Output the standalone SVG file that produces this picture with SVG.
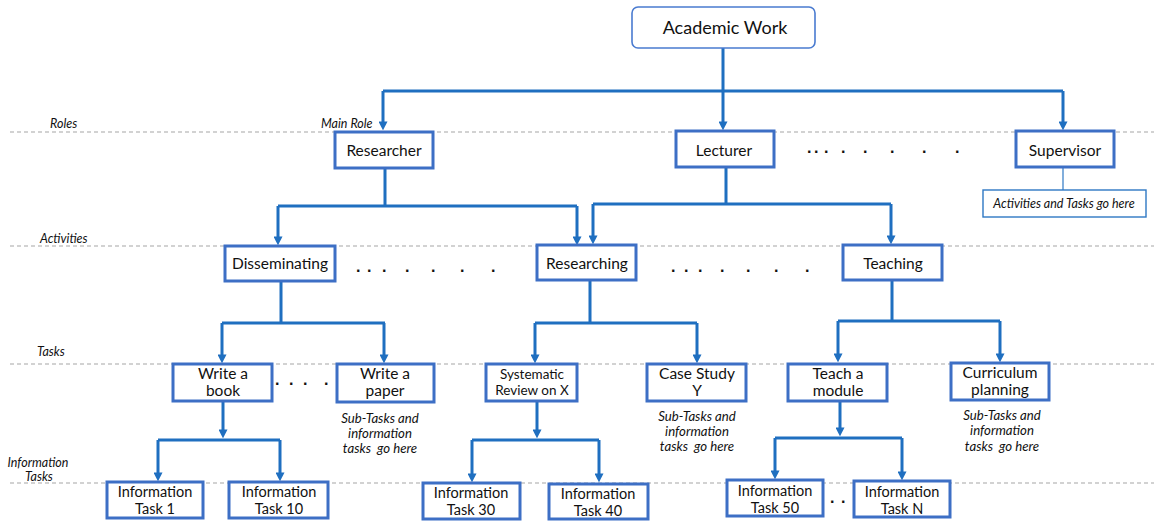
<svg xmlns="http://www.w3.org/2000/svg" width="1154" height="521" viewBox="0 0 1154 521">
  <style>
    .bg { fill: #ffffff; }
    .guide { stroke: #a6a6a6; stroke-width: 1.2; stroke-dasharray: 4 3; fill: none; }
    .box { fill: #ffffff; stroke: #3d6fc5; stroke-width: 3; }
    .root { fill: #ffffff; stroke: #4a7bd0; stroke-width: 1.6; }
    .note-box { fill: #ffffff; stroke: #2e78c4; stroke-width: 1.4; }
    .link { fill: none; stroke: #1f6fc0; stroke-width: 3; }
    .drop { fill: none; stroke: #1f6fc0; stroke-width: 3; marker-end: url(#head); }
    .thin { fill: none; stroke: #2e78c4; stroke-width: 1.2; }
    .t { font-family: Lato, "Liberation Sans", sans-serif; fill: #111111; text-anchor: middle; }
    .lg { font-size: 18px; }
    .md { font-size: 15.5px; }
    .sm { font-size: 13.5px; }
    .inf { font-size: 14.5px; }
    .it { font-family: Lato, "Liberation Sans", sans-serif; font-style: italic; fill: #111111; font-size: 12.5px; }
    .itc { text-anchor: middle; font-size: 13.2px; }
    .dots { font-family: "Liberation Sans", sans-serif; font-size: 16px; fill: #111111; font-weight: bold; }
  </style>
  <defs>
    <marker id="head" viewBox="0 0 10 10" refX="4" refY="5" markerWidth="9" markerHeight="9" markerUnits="userSpaceOnUse" orient="auto">
      <path d="M0,0 L10,5 L0,10 z" fill="#1f6fc0"/>
    </marker>
  </defs>

  <rect class="bg" x="0" y="0" width="1154" height="521"/>

  <!-- level guides -->
  <g id="guides">
    <line class="guide" x1="10" y1="132" x2="1154" y2="132"/>
    <line class="guide" x1="10" y1="246" x2="1154" y2="246"/>
    <line class="guide" x1="10" y1="364" x2="1154" y2="364"/>
    <line class="guide" x1="10" y1="483" x2="1154" y2="483"/>
  </g>

  <!-- level labels -->
  <g id="labels">
    <text class="it" x="50" y="128">Roles</text>
    <text class="it" x="321" y="128">Main Role</text>
    <text class="it" x="40" y="243">Activities</text>
    <text class="it" x="37" y="356">Tasks</text>
    <text class="it" x="38" y="467" text-anchor="middle">Information</text>
    <text class="it" x="39" y="481" text-anchor="middle">Tasks</text>
  </g>

  <!-- connectors -->
  <g id="connectors">
    <!-- Academic Work to roles -->
    <path class="link" d="M723,48 V91 M383,91 H1063"/>
    <path class="drop" d="M383,91 V125"/>
    <path class="drop" d="M723,91 V125"/>
    <path class="drop" d="M1063,91 V125"/>
    <!-- Researcher -->
    <path class="link" d="M385,168 V206 M278,206 H577"/>
    <path class="drop" d="M278,206 V240"/>
    <path class="drop" d="M577,206 V240"/>
    <!-- Lecturer -->
    <path class="link" d="M726,167 V204 M593,204 H891"/>
    <path class="drop" d="M593,204 V239"/>
    <path class="drop" d="M891,204 V239"/>
    <!-- Supervisor note -->
    <path class="thin" d="M1063,167 V190"/>
    <!-- Disseminating -->
    <path class="link" d="M281,281 V323 M222,323 H385"/>
    <path class="drop" d="M222,323 V358"/>
    <path class="drop" d="M384,323 V358"/>
    <!-- Researching -->
    <path class="link" d="M590,280 V323 M535,323 H697"/>
    <path class="drop" d="M535,323 V358"/>
    <path class="drop" d="M697,323 V358"/>
    <!-- Teaching -->
    <path class="link" d="M892,280 V321 M838,321 H1000"/>
    <path class="drop" d="M838,321 V357"/>
    <path class="drop" d="M1000,321 V357"/>
    <!-- Write a book -->
    <path class="drop" d="M223,401 V433"/>
    <path class="link" d="M158,440 H280"/>
    <path class="drop" d="M158,440 V476"/>
    <path class="drop" d="M280,440 V476"/>
    <!-- Systematic Review on X -->
    <path class="drop" d="M537,401 V433"/>
    <path class="link" d="M472,440 H599"/>
    <path class="drop" d="M472,440 V477"/>
    <path class="drop" d="M599,440 V477"/>
    <!-- Teach a module -->
    <path class="drop" d="M840,396 V431"/>
    <path class="link" d="M775,438 H902"/>
    <path class="drop" d="M775,438 V474"/>
    <path class="drop" d="M902,438 V475"/>
  </g>

  <!-- root -->
  <g id="academic-work">
    <rect class="root" x="632" y="7" width="183" height="41" rx="6"/>
    <text class="t lg" x="725" y="34">Academic Work</text>
  </g>

  <!-- roles -->
  <g id="researcher">
    <rect class="box" x="335" y="132" width="98" height="36"/>
    <text class="t md" x="384" y="156">Researcher</text>
  </g>
  <g id="lecturer">
    <rect class="box" x="676" y="131" width="98" height="36"/>
    <text class="t md" x="724" y="156">Lecturer</text>
  </g>
  <text class="dots" x="807 814 824 841 863 890 922 955" y="153">........</text>
  <g id="supervisor">
    <rect class="box" x="1016" y="131" width="98" height="36"/>
    <text class="t md" x="1065" y="156">Supervisor</text>
  </g>
  <g id="supervisor-note">
    <rect class="note-box" x="983" y="190" width="163" height="27"/>
    <text class="it" x="1064" y="208" text-anchor="middle" font-size="12">Activities and Tasks go here</text>
  </g>

  <!-- activities -->
  <g id="disseminating">
    <rect class="box" x="225" y="246" width="110" height="35"/>
    <text class="t md" x="280" y="269">Disseminating</text>
  </g>
  <text class="dots" x="356 367 382 405 431 460 491" y="272">.......</text>
  <g id="researching">
    <rect class="box" x="537" y="245" width="99" height="35"/>
    <text class="t md" x="587" y="269">Researching</text>
  </g>
  <text class="dots" x="671 684 698 720 746 774 805" y="272">.......</text>
  <g id="teaching">
    <rect class="box" x="843" y="245" width="99" height="35"/>
    <text class="t md" x="893" y="269">Teaching</text>
  </g>

  <!-- tasks -->
  <g id="write-book">
    <rect class="box" x="173" y="364" width="99" height="37"/>
    <text class="t md" x="223" y="379">Write a</text>
    <text class="t md" x="223" y="396">book</text>
  </g>
  <text class="dots" x="275 289 303 324" y="385">....</text>
  <g id="write-paper">
    <rect class="box" x="337" y="364" width="97" height="38"/>
    <text class="t md" x="385" y="379">Write a</text>
    <text class="t md" x="385" y="396">paper</text>
  </g>
  <g id="write-paper-note">
    <text class="it itc" x="380" y="423">Sub-Tasks and</text>
    <text class="it itc" x="380" y="438">information</text>
    <text class="it itc" x="380" y="453">tasks&#160; go here</text>
  </g>
  <g id="systematic-review">
    <rect class="box" x="486" y="364" width="91" height="37"/>
    <text class="t sm" x="532" y="379">Systematic</text>
    <text class="t sm" x="532" y="395">Review on X</text>
  </g>
  <g id="case-study">
    <rect class="box" x="647" y="364" width="99" height="37"/>
    <text class="t md" x="697" y="379">Case Study</text>
    <text class="t md" x="697" y="396">Y</text>
  </g>
  <g id="case-study-note">
    <text class="it itc" x="697" y="421">Sub-Tasks and</text>
    <text class="it itc" x="697" y="436">information</text>
    <text class="it itc" x="697" y="451">tasks&#160; go here</text>
  </g>
  <g id="teach-module">
    <rect class="box" x="788" y="364" width="99" height="37"/>
    <text class="t md" x="838" y="379">Teach a</text>
    <text class="t md" x="838" y="396">module</text>
  </g>
  <g id="curriculum">
    <rect class="box" x="951" y="363" width="98" height="37"/>
    <text class="t md" x="1000" y="378">Curriculum</text>
    <text class="t md" x="1000" y="395">planning</text>
  </g>
  <g id="curriculum-note">
    <text class="it itc" x="1002" y="420">Sub-Tasks and</text>
    <text class="it itc" x="1002" y="435">information</text>
    <text class="it itc" x="1002" y="451">tasks&#160; go here</text>
  </g>

  <!-- information tasks -->
  <g id="info-1">
    <rect class="box" x="107" y="482" width="96" height="36"/>
    <text class="t inf" x="155" y="497">Information</text>
    <text class="t inf" x="155" y="514">Task 1</text>
  </g>
  <g id="info-10">
    <rect class="box" x="229" y="482" width="99" height="36"/>
    <text class="t inf" x="279" y="497">Information</text>
    <text class="t inf" x="279" y="514">Task 10</text>
  </g>
  <g id="info-30">
    <rect class="box" x="423" y="483" width="97" height="36"/>
    <text class="t inf" x="471" y="498">Information</text>
    <text class="t inf" x="471" y="515">Task 30</text>
  </g>
  <g id="info-40">
    <rect class="box" x="549" y="484" width="99" height="35"/>
    <text class="t inf" x="598" y="499">Information</text>
    <text class="t inf" x="598" y="516">Task 40</text>
  </g>
  <g id="info-50">
    <rect class="box" x="727" y="480" width="96" height="36"/>
    <text class="t inf" x="775" y="496">Information</text>
    <text class="t inf" x="775" y="513">Task 50</text>
  </g>
  <text class="dots" x="830 841" y="503">..</text>
  <g id="info-n">
    <rect class="box" x="854" y="481" width="96" height="36"/>
    <text class="t inf" x="902" y="497">Information</text>
    <text class="t inf" x="902" y="514">Task N</text>
  </g>
</svg>
